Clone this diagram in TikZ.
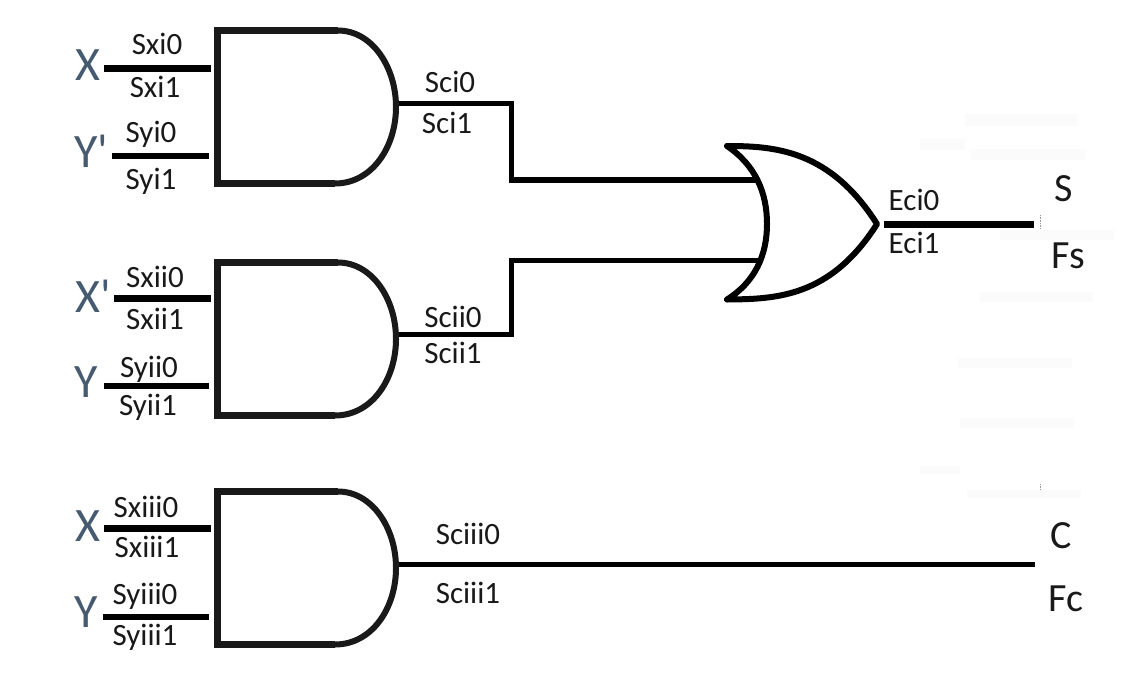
\documentclass[tikz,border=0pt]{standalone}
\usepackage{fontspec}
\setmainfont{Carlito}
\newfontfamily\sigfont[Ligatures=NoCommon]{Carlito}
\definecolor{sigblue}{HTML}{465A70}
\tikzset{
  x=1pt,y=-1pt,
  gatefill/.style={fill=white,draw=none},
  gateline/.style={draw=black!90,line width=7pt,line cap=butt},
  gatecurve/.style={draw=black!90,line width=6pt,line join=round},
  orline/.style={draw=black,line width=6pt,line join=round,fill=white},
  wirethick/.style={draw=black,line width=7pt},
  wirethin/.style={draw=black,line width=5pt,line join=miter},
  wiremid/.style={draw=black,line width=6pt},
  lbl/.style={anchor=base,inner sep=0pt,font=\fontsize{31}{31}\selectfont,text=black!90},
  big/.style={anchor=base,inner sep=0pt,font=\fontsize{40}{40}\selectfont,text=black!90},
  sig/.style={anchor=base west,inner sep=0pt,font=\sigfont\fontsize{48}{48}\selectfont,text=sigblue},
  ghost/.style={fill=black!1.5,draw=none},
}
\newcommand{\andgate}[2]{%
  \path[gatefill] (217.5,#1+3.5) -- (338,#1+3.5)
    .. controls (372,#1+3.5) and (396,#1+40) .. (396,#1+80)
    .. controls (396,#1+120) and (372,#1+156.5) .. (335,#1+156.5)
    -- (217.5,#1+156.5) -- cycle;
  \path[gatecurve] (338,#1+3.5)
    .. controls (372,#1+3.5) and (396,#1+40) .. (396,#1+80)
    .. controls (396,#1+120) and (372,#1+156.5) .. (335,#1+156.5);
  \path[gateline] (338,#1+3.5) -- (217.5,#1+3.5) -- (217.5,#1+156.5) -- (335,#1+156.5);
  \coordinate (#2) at (399,#1+77);
}
\begin{document}
\begin{tikzpicture}
\useasboundingbox[fill=white] (0,0) rectangle (1137,675);
% faint residue patches
\foreach \a/\b/\c/\d in {965/114/1078/126,920/139/965/150,971/149/1085/160,1000/230/1114/240,980/292/1093/302,958/358/1072/368,960/418/1074/428,920/466/960/474,967/490/1081/498}
  \path[ghost] (\a,\b) rectangle (\c,\d);
\draw[black!40,line width=0.6pt,densely dotted] (1040,215) -- (1040,229);
\draw[black!40,line width=0.6pt,densely dotted] (1040,484) -- (1040,490);

% gates
\andgate{27}{ga}
\andgate{259}{gb}
\andgate{488}{gc}
\path[orline]
  (727,146) .. controls (775,146) and (830,150) .. (877,224)
  .. controls (830,298) and (775,299) .. (727,299.5)
  .. controls (755,282) and (767,255) .. (767,224)
  .. controls (767,192) and (755,165) .. (727,146) -- cycle;

% pins
\coordinate (xa) at (104,68);   \coordinate (xaE) at (211,68);
\coordinate (ya) at (112,156);  \coordinate (yaE) at (209,156);
\coordinate (xb) at (114,298);  \coordinate (xbE) at (211,298);
\coordinate (yb) at (104,386);  \coordinate (ybE) at (209,386);
\coordinate (xc) at (104,528);  \coordinate (xcE) at (211,528);
\coordinate (yc) at (103,617);  \coordinate (ycE) at (209,617);
\coordinate (ora) at (756,180);
\coordinate (orb) at (758,260);
\coordinate (orout) at (884,224);
\coordinate (sout) at (1034,224);
\coordinate (cout) at (1035,564);
\coordinate (aout) at (399,103.5);
\coordinate (bout) at (399,334);
\coordinate (cgout) at (399,564);

\draw[wirethick] (xa) -- (xaE);
\draw[wiremid] (ya) -- (yaE);
\draw[wirethick] (xb) -- (xbE);
\draw[wiremid] (yb) -- (ybE);
\draw[wirethick] (xc) -- (xcE);
\draw[wiremid] (yc) -- (ycE);

\draw[wirethin] (aout) -- (511,103.5) -- (511,180);
\draw[wiremid] (508.5,180) -- (ora);
\draw[wirethin] (bout) -- (511,334) -- (511,260) -- (orb);
\draw[wirethin] (cgout) -- (cout);
\draw[wirethick] (orout) -- (sout);

% signal letters
\node[sig] (nx1) at (75,80) {X};
\node[sig] (ny1) at (74,167) {Y'};
\node[sig] (nx2) at (75,312) {X'};
\node[sig] (ny2) at (74,397) {Y};
\node[sig] (nx3) at (75,541) {X};
\node[sig] (ny3) at (74,627) {Y};

% labels
\node[lbl] (l1) at (157,54) {Sxi0};
\node[lbl] (l2) at (155,97) {Sxi1};
\node[lbl] (l3) at (151,142) {Syi0};
\node[lbl] (l4) at (151,189) {Syi1};
\node[lbl] (l5) at (450,92) {Sci0};
\node[lbl] (l6) at (447,133) {Sci1};
\node[lbl] (l7) at (155,287) {Sxii0};
\node[lbl] (l8) at (155,329) {Sxii1};
\node[lbl] (l9) at (149,377) {Syii0};
\node[lbl] (l10) at (148,415) {Syii1};
\node[lbl] (l11) at (453,327) {Scii0};
\node[lbl] (l12) at (453,363) {Scii1};
\node[lbl] (l13) at (146,517) {Sxiii0};
\node[lbl] (l14) at (147,557) {Sxiii1};
\node[lbl] (l15) at (145,604) {Syiii0};
\node[lbl] (l16) at (145,645) {Syiii1};
\node[lbl] (l17) at (468,544) {Sciii0};
\node[lbl] (l18) at (468,603) {Sciii1};
\node[lbl] (l19) at (914,210) {Eci0};
\node[lbl] (l20) at (914,253) {Eci1};
\node[big] (o1) at (1064,201) {S};
\node[big] (o2) at (1068,268) {Fs};
\node[big] (o3) at (1061,548) {C};
\node[big] (o4) at (1066,611) {Fc};
\end{tikzpicture}
\end{document}
